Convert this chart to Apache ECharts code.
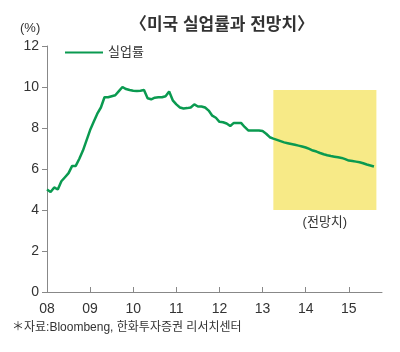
<!DOCTYPE html>
<html><head><meta charset="utf-8">
<script src="https://cdn.jsdelivr.net/npm/echarts@6/dist/echarts.min.js"></script>
<style>html,body{margin:0;padding:0;background:#fff}#c{width:400px;height:352px}</style>
</head><body><div id="c"></div>
<script>
const title = '〈미국 실업률과 전망치〉';
const seriesName = '실업률';
const unitLabel = '(%)';
const sourceNote = '＊자료:Bloombeng, 한화투자증권 리서치센터';
const forecastLabel = '(전망치)';
const startYear = 2008;
const yearTicks = [2008, 2009, 2010, 2011, 2012, 2013, 2014, 2015];
const yTicks = [0, 2, 4, 6, 8, 10, 12];
// monthly values, Jan 2008 onward
const unemployment = [
  5.0, 4.88, 5.1, 5.0, 5.4, 5.6, 5.8, 6.15, 6.15, 6.5, 6.9, 7.4,
  7.9, 8.3, 8.7, 9.0, 9.5, 9.5, 9.55, 9.6, 9.8, 10.0, 9.9, 9.85,
  9.82, 9.8, 9.82, 9.85, 9.45, 9.4, 9.48, 9.5, 9.5, 9.55, 9.78, 9.35,
  9.15, 9.0, 8.95, 8.97, 9.0, 9.15, 9.05, 9.05, 9.0, 8.85, 8.6, 8.5,
  8.3, 8.28, 8.22, 8.1, 8.25, 8.25, 8.25, 8.05, 7.88, 7.88, 7.88, 7.88,
  7.85, 7.72, 7.55, 7.48, 7.42, 7.36, 7.3, 7.26, 7.22, 7.18, 7.14, 7.1,
  7.05, 6.98, 6.9, 6.85, 6.78, 6.72, 6.67, 6.63, 6.6, 6.57, 6.54, 6.48,
  6.41, 6.39, 6.36, 6.33, 6.28, 6.22, 6.17, 6.12
];
const forecastX = [2013.25, 2015.64];
const forecastY = [4, 9.85];
const xMax = 2015.77;

const font = "'Liberation Sans','Noto Sans CJK KR',sans-serif";
const points = unemployment.map((v, i) => [startYear + i / 12, v]);
const chart = echarts.init(document.getElementById('c'), null, {renderer: 'canvas'});
chart.setOption({
  animation: false,
  backgroundColor: '#fff',
  title: {
    text: title, left: 217, textAlign: 'center', top: 12,
    textStyle: {fontFamily: font, fontSize: 17, fontWeight: 'bold', color: '#333'}
  },
  legend: {
    left: 60, top: 41, itemWidth: 38, itemHeight: 10, itemGap: 8,
    icon: 'path://M0,4L38,4L38,6L0,6Z',
    textStyle: {fontFamily: font, fontSize: 13, color: '#333'},
    data: [seriesName]
  },
  grid: {left: 47, right: 18, top: 46, bottom: 60, containLabel: false},
  xAxis: {
    type: 'value', min: startYear, max: xMax, interval: 1,
    splitLine: {show: false},
    axisLine: {lineStyle: {color: '#888', width: 1}},
    axisTick: {inside: true, length: 5, lineStyle: {color: '#888'}, customValues: yearTicks},
    axisLabel: {
      customValues: yearTicks, margin: 10,
      fontFamily: font, fontSize: 14, color: '#333',
      formatter: v => String(Math.round(v) % 100).padStart(2, '0')
    }
  },
  yAxis: {
    type: 'value', min: 0, max: 12, interval: 2,
    splitLine: {show: false},
    axisLine: {show: true, lineStyle: {color: '#888', width: 1}},
    axisTick: {show: true, length: 5, lineStyle: {color: '#888'}, customValues: yTicks},
    axisLabel: {customValues: yTicks, margin: 8, fontFamily: font, fontSize: 14, color: '#333'}
  },
  graphic: [
    {type: 'text', left: 20, top: 22, style: {text: unitLabel, font: '13px ' + font, fill: '#333'}},
    {type: 'text', left: 12, top: 322, style: {text: sourceNote, font: '12px ' + font, fill: '#333'}}
  ],
  series: [{
    name: seriesName, type: 'line', data: points, showSymbol: false, symbol: 'none',
    smooth: false, z: 3,
    lineStyle: {color: '#0a9a50', width: 2.5},
    itemStyle: {color: '#0a9a50'},
    markArea: {
      silent: true,
      itemStyle: {color: '#f7ea87'},
      label: {show: true, position: 'bottom', distance: 6, color: '#333', fontFamily: font, fontSize: 13},
      data: [[
        {name: forecastLabel, coord: [forecastX[0], forecastY[1]]},
        {coord: [forecastX[1], forecastY[0]]}
      ]]
    }
  }]
});
</script></body></html>
